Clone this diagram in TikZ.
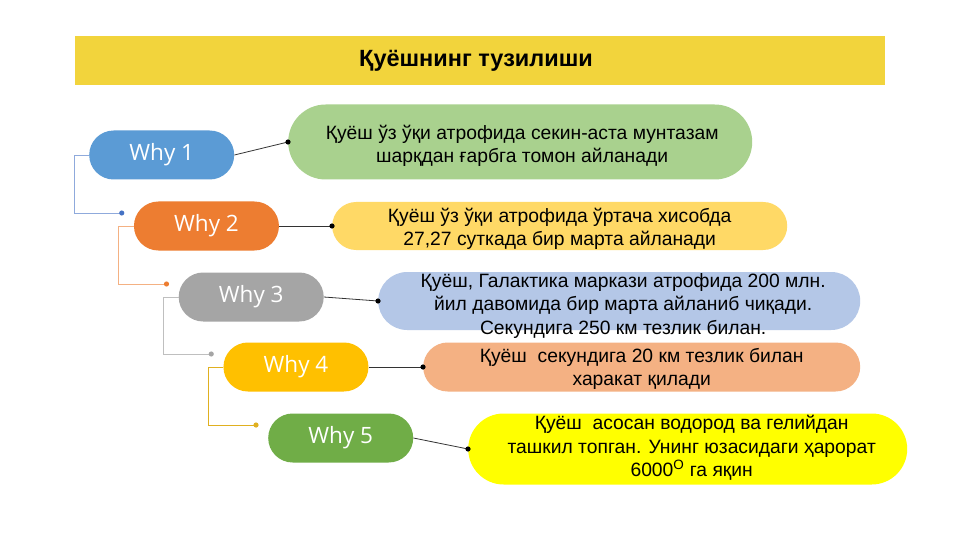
\documentclass[tikz,border=0pt]{standalone}
\usepackage{fontspec}
\setmainfont{Liberation Sans}
\newfontfamily\whyfont{Open Sans}
\usetikzlibrary{shapes.misc,calc}

\definecolor{titlebar}{HTML}{F2D43C}
\definecolor{whyblue}{HTML}{5B9BD5}
\definecolor{whyorange}{HTML}{ED7D31}
\definecolor{whygray}{HTML}{A5A5A5}
\definecolor{whygold}{HTML}{FFC000}
\definecolor{whygreen}{HTML}{70AD47}
\definecolor{ansgreen}{HTML}{A9D18E}
\definecolor{ansyellow}{HTML}{FFD966}
\definecolor{ansblue}{HTML}{B4C7E7}
\definecolor{ansorange}{HTML}{F4B183}
\definecolor{anslemon}{HTML}{FFFF00}
\definecolor{elbowblue}{HTML}{8FAADC}
\definecolor{dotblue}{HTML}{4472C4}
\definecolor{elbowgray}{HTML}{BFBFBF}
\definecolor{elbowgold}{HTML}{E0B020}

\tikzset{
  pill/.style={rounded rectangle, inner sep=0pt, anchor=west},
  whybox/.style={pill, minimum width=145pt, minimum height=49pt, text=white,
    font=\whyfont\fontsize{22.5}{24}\selectfont},
  answer/.style={pill},
  anstext/.style={inner sep=0pt, align=center, font=\fontsize{19.3}{23.5}\selectfont},
  joinline/.style={draw=black!80, line width=0.8pt},
  elbow/.style={line width=0.8pt},
}

\begin{document}
\begin{tikzpicture}[x=1pt,y=-1pt]
    \useasboundingbox[fill=white] (0,0) rectangle (961,540);

    % Sarlavha
    \fill[titlebar] (75,36) rectangle (885,85);
    \node[font=\bfseries\fontsize{23.5}{26}\selectfont] (title) at (476,61) {Қуёшнинг тузилиши};

    % Why
    \foreach \k/\wc/\yw in {1/whyblue/155, 2/whyorange/226, 3/whygray/297, 4/whygold/367, 5/whygreen/438} {
        \node[whybox, fill=\wc] (why\k) at (89+44.75*\k-44.75, \yw) {Why \k};
    }

    % Javoblar
    \node[answer, fill=ansgreen, minimum width=464pt, minimum height=75pt] (ans1) at (288,142) {};
    \node[answer, fill=ansyellow, minimum width=455pt, minimum height=48pt] (ans2) at (332,226) {};
    \node[answer, fill=ansblue, minimum width=482pt, minimum height=58pt] (ans3) at (378,301) {};
    \node[answer, fill=ansorange, minimum width=437pt, minimum height=49pt] (ans4) at (423,367) {};
    \node[answer, fill=anslemon, minimum width=439pt, minimum height=71pt] (ans5) at (468,449) {};

    \node[anstext] (txt1) at ($(ans1.center)+(2,4)$)
        {Қуёш ўз ўқи атрофида секин-аста мунтазам\\шарқдан ғарбга томон айланади};
    \node[anstext] (txt2) at ($(ans2.center)+(0,3)$)
        {Қуёш ўз ўқи атрофида ўртача хисобда\\27,27 суткада бир марта айланади};
    \node[anstext] (txt3) at ($(ans3.center)+(4,5)$)
        {Қуёш, Галактика маркази атрофида 200 млн.\\йил давомида бир марта айланиб чиқади.\\Секундига 250 км тезлик билан.};
    \node[anstext] (txt4) at ($(ans4.center)+(0,2)$)
        {Қуёш\ \ секундига 20 км тезлик билан\\харакат қилади};
    \node[anstext] (txt5) at ($(ans5.center)+(4,-1)$)
        {Қуёш\ \ асосан водород ва гелийдан\\ташкил топган. Унинг юзасидаги ҳарорат\\6000\textsuperscript{O} га яқин};

    \foreach \k in {1,...,5} {
        \draw[joinline] (why\k.east) -- (ans\k.west);
        \fill (ans\k.west) circle (2.6);
    }

    % Zinapoya chiziqlari
    \foreach \k/\m/\lc/\dc in {1/2/elbowblue/dotblue, 2/3/ansorange/whyorange,
                               3/4/elbowgray/whygray, 4/5/elbowgold/elbowgold} {
        \coordinate (tip\k) at ($(why\m.west)+(-12,-13)$);
        \draw[elbow, draw=\lc] (why\k.west) -- ++(-15,0) |- (tip\k);
        \fill[fill=\dc] (tip\k) circle (2.6);
    }
\end{tikzpicture}
\end{document}
